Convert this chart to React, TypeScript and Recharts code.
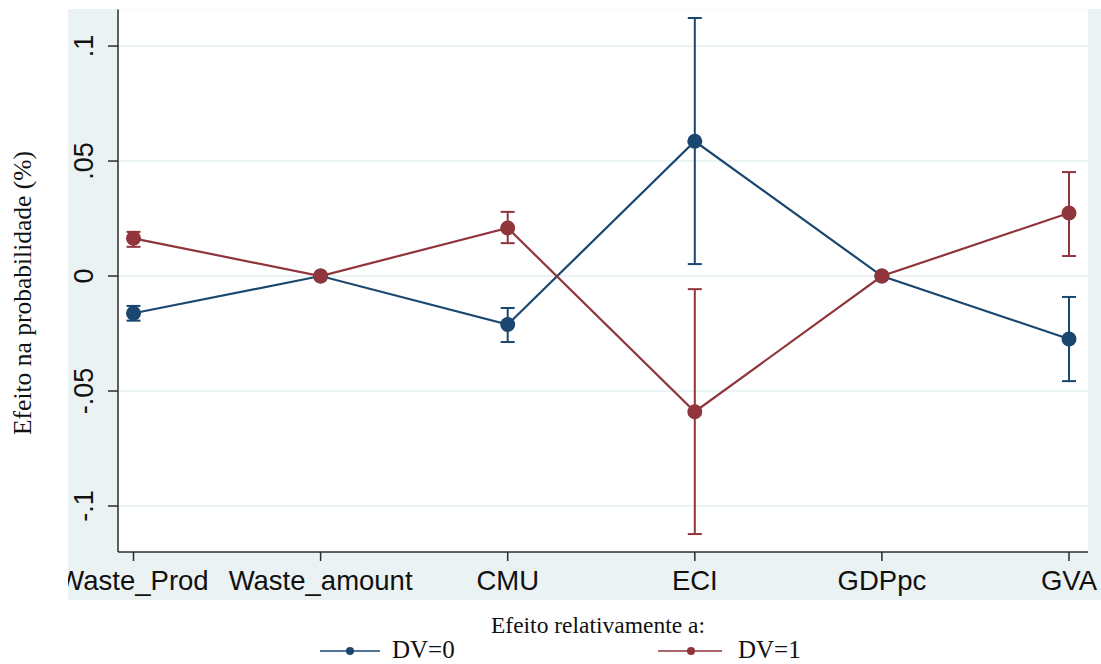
import {
  LineChart,
  Line,
  XAxis,
  YAxis,
  CartesianGrid,
  ErrorBar,
  Legend,
} from "recharts";

// Categories on the x axis
const categories = ["Waste_Prod", "Waste_amount", "CMU", "ECI", "GDPpc", "GVA"];

// DV=0 (navy): estimate and 95% CI bounds
const dv0Est = [-0.0162, 0, -0.0211, 0.0586, 0, -0.0274];
const dv0Low = [-0.0194, 0, -0.0287, 0.0052, 0, -0.0457];
const dv0High = [-0.013, 0, -0.0139, 0.1122, 0, -0.0091];

// DV=1 (maroon)
const dv1Est = [0.0164, 0, 0.0209, -0.059, 0, 0.0274];
const dv1Low = [0.0127, 0, 0.0143, -0.1122, 0, 0.0087];
const dv1High = [0.0192, 0, 0.0279, -0.0057, 0, 0.0452];

const yTicks = [-0.1, -0.05, 0, 0.05, 0.1];
const yTickLabels = ["-.1", "-.05", "0", ".05", ".1"];

const NAVY = "#1a476f";
const MAROON = "#90353b";
const BG = "#eaf2f3";
const SERIF = "'Liberation Serif', 'Times New Roman', serif";
const SANS = "'Liberation Sans', Arial, sans-serif";

// error bars want offsets from the estimate: [down, up]
const chartData = categories.map((name, i) => ({
  name,
  dv0: dv0Est[i],
  err0: [dv0Est[i] - dv0Low[i], dv0High[i] - dv0Est[i]],
  dv1: dv1Est[i],
  err1: [dv1Est[i] - dv1Low[i], dv1High[i] - dv1Est[i]],
}));

// labels get cut at the edge of the graph region, like the original
function XTick(props: any) {
  const { x, payload } = props;
  return (
    <g>
      <defs>
        <clipPath id="xtick-clip">
          <rect x={68} y={555} width={1033} height={45} />
        </clipPath>
      </defs>
      <text
        x={x}
        y={590}
        textAnchor="middle"
        fontFamily={SANS}
        fontSize={27.5}
        fill="#111"
        clipPath="url(#xtick-clip)"
      >
        {payload.value}
      </text>
    </g>
  );
}

function YTick(props: any) {
  const { y, payload } = props;
  const idx = yTicks.indexOf(payload.value);
  const label = idx >= 0 ? yTickLabels[idx] : String(payload.value);
  return (
    <text
      x={93}
      y={y}
      transform={`rotate(-90, 93, ${y})`}
      textAnchor="middle"
      fontFamily={SANS}
      fontSize={27}
      fill="#111"
    >
      {label}
    </text>
  );
}

function YTitle() {
  return (
    <text
      x={31}
      y={293}
      transform="rotate(-90, 31, 293)"
      textAnchor="middle"
      fontFamily={SERIF}
      fontSize={25.5}
      fill="#111"
    >
      Efeito na probabilidade (%)
    </text>
  );
}

function renderLegend() {
  return (
    <svg width={1101} height={56} style={{ display: "block", overflow: "visible" }}>
      <text x={598} y={25} textAnchor="middle" fontFamily={SERIF} fontSize={23.5} fill="#111">
        Efeito relativamente a:
      </text>
      <line x1={320} y1={43} x2={380} y2={43} stroke={NAVY} strokeWidth={1.5} />
      <circle cx={350} cy={43} r={4} fill={NAVY} />
      <text x={392} y={50} fontFamily={SERIF} fontSize={25} fill="#111">
        DV=0
      </text>
      <line x1={658} y1={43} x2={722} y2={43} stroke={MAROON} strokeWidth={1.5} />
      <circle cx={691} cy={43} r={4} fill={MAROON} />
      <text x={738} y={50} fontFamily={SERIF} fontSize={25} fill="#111">
        DV=1
      </text>
    </svg>
  );
}

export default function App() {
  return (
    <div
      style={{
        position: "absolute",
        left: 0,
        top: 0,
        width: 1101,
        height: 664,
        overflow: "hidden",
        background: "#fff",
      }}
    >
      <div
        style={{ position: "absolute", left: 68, top: 9, width: 1033, height: 591, background: BG }}
      />
      <div style={{ position: "absolute", left: 0, top: 0 }}>
        <LineChart
          width={1101}
          height={664}
          data={chartData}
          margin={{ top: 9.5, right: 13, left: 68, bottom: 64 }}
        >
          <CartesianGrid
            vertical={false}
            stroke={BG}
            strokeWidth={2}
            fill="#ffffff"
            horizontalValues={yTicks}
          />
          <XAxis
            dataKey="name"
            type="category"
            padding={{ left: 15.5, right: 19 }}
            height={48}
            tick={<XTick />}
            tickSize={9}
            axisLine={{ stroke: "#2b2b2b", strokeWidth: 1.5 }}
            tickLine={{ stroke: "#2b2b2b", strokeWidth: 1.5 }}
            interval={0}
          />
          <YAxis
            type="number"
            domain={[-0.12, 0.1159]}
            ticks={yTicks}
            allowDataOverflow
            width={50}
            tick={<YTick />}
            tickSize={10}
            axisLine={{ stroke: "#2b2b2b", strokeWidth: 1.5 }}
            tickLine={{ stroke: "#2b2b2b", strokeWidth: 1.5 }}
            label={{ content: <YTitle /> }}
          />
          <Legend
            content={renderLegend}
            layout="horizontal"
            verticalAlign="middle"
            align="center"
            wrapperStyle={{ left: 0, top: 608, width: 1101, height: 56, overflow: "visible" }}
          />
          <Line
            dataKey="dv0"
            name="DV=0"
            stroke={NAVY}
            strokeWidth={2.2}
            dot={{ r: 7.5, fill: NAVY, stroke: "none" }}
            isAnimationActive={false}
          >
            <ErrorBar dataKey="err0" direction="y" width={7} stroke={NAVY} strokeWidth={2} />
          </Line>
          <Line
            dataKey="dv1"
            name="DV=1"
            stroke={MAROON}
            strokeWidth={2.2}
            dot={{ r: 7.5, fill: MAROON, stroke: "none" }}
            isAnimationActive={false}
          >
            <ErrorBar dataKey="err1" direction="y" width={7} stroke={MAROON} strokeWidth={2} />
          </Line>
        </LineChart>
      </div>
    </div>
  );
}
